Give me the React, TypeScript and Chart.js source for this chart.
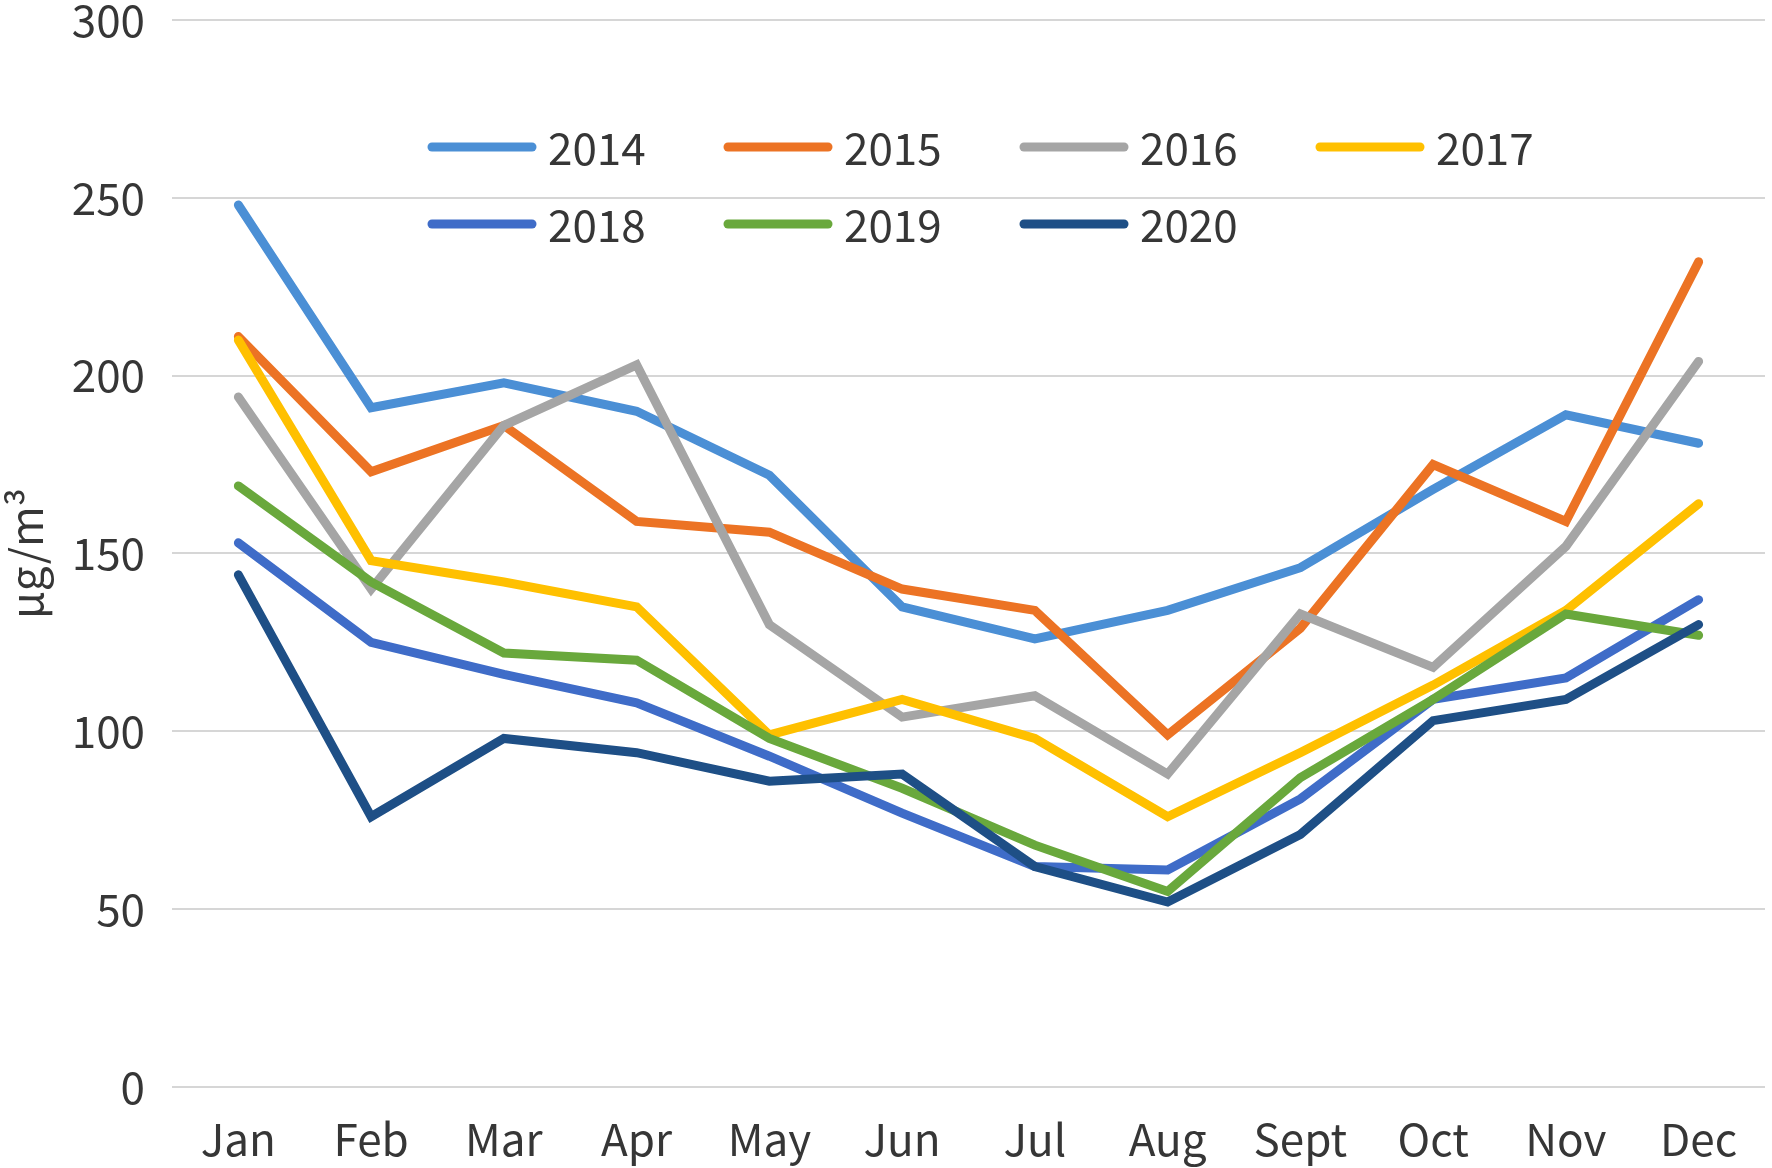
import React, { useEffect, useRef } from "react";
import { Chart, registerables } from "chart.js";

Chart.register(...registerables);

const months = ["Jan", "Feb", "Mar", "Apr", "May", "Jun", "Jul", "Aug", "Sept", "Oct", "Nov", "Dec"];
const years = ["2014", "2015", "2016", "2017", "2018", "2019", "2020"];

const v2014 = [248, 191, 198, 190, 172, 135, 126, 134, 146, 168, 189, 181];
const v2015 = [211, 173, 186, 159, 156, 140, 134, 99, 129, 175, 159, 232];
const v2016 = [194, 140, 186, 203, 130, 104, 110, 88, 133, 118, 152, 204];
const v2017 = [210, 148, 142, 135, 99, 109, 98, 76, 94, 113, 134, 164];
const v2018 = [153, 125, 116, 108, 93, 77, 62, 61, 81, 109, 115, 137];
const v2019 = [169, 142, 122, 120, 98, 84, 68, 55, 87, 109, 133, 127];
const v2020 = [144, 76, 98, 94, 86, 88, 62, 52, 71, 103, 109, 130];

const yTicks = [0, 50, 100, 150, 200, 250, 300];

const seriesValues = [v2014, v2015, v2016, v2017, v2018, v2019, v2020];
const colors = ["#4B8FD5", "#EC7324", "#A5A5A5", "#FFC000", "#3F6CC8", "#69A83C", "#1E4F86"];

const FONT = "'Noto Sans CJK SC', 'Liberation Sans', sans-serif";
const TEXT = "#363636";
const FS = 44;

const inlineLegend = {
  id: "inlineLegend",
  afterDraw(chart: any) {
    const ctx = chart.ctx;
    const area = chart.chartArea;
    const x0 = area.left + 255;
    const y0 = area.top + 127;
    const colW = 296;
    const rowH = 77;
    chart.data.datasets.forEach((ds: any, i: number) => {
      const col = i % 4;
      const row = Math.floor(i / 4);
      const x = x0 + col * colW;
      const y = y0 + row * rowH;
      ctx.save();
      ctx.strokeStyle = ds.borderColor;
      ctx.lineWidth = 9;
      ctx.lineCap = "round";
      ctx.beginPath();
      ctx.moveTo(x + 5, y);
      ctx.lineTo(x + 105, y);
      ctx.stroke();
      ctx.fillStyle = TEXT;
      ctx.font = `${FS}px ${FONT}`;
      ctx.textBaseline = "middle";
      ctx.textAlign = "left";
      ctx.fillText(ds.label, x + 121, y + 1);
      ctx.restore();
    });
  },
};

export default function App() {
  const ref = useRef<HTMLCanvasElement | null>(null);

  useEffect(() => {
    if (!ref.current) return;
    const chart = new Chart(ref.current, {
      type: "line",
      data: {
        labels: months,
        datasets: years.map((y, i) => ({
          label: y,
          data: seriesValues[i],
          borderColor: colors[i],
          backgroundColor: colors[i],
          borderWidth: 9,
          pointRadius: 0,
          tension: 0,
          borderCapStyle: "round" as const,
          borderJoinStyle: "miter" as const,
          order: years.length - i,
        })),
      },
      options: {
        animation: false,
        responsive: true,
        maintainAspectRatio: false,
        layout: { padding: { top: 0, right: 7, left: 0, bottom: 0 } },
        plugins: {
          legend: { display: false },
          tooltip: { enabled: false },
        },
        scales: {
          x: {
            offset: true,
            grid: { display: false },
            border: { display: false },
            ticks: {
              color: TEXT,
              font: { family: FONT, size: FS },
              padding: 18,
              maxRotation: 0,
              autoSkip: false,
            },
            afterFit: (s: any) => {
              s.height = 81;
            },
          },
          y: {
            min: 0,
            max: 300,
            afterBuildTicks: (s: any) => {
              s.ticks = yTicks.map((v) => ({ value: v }));
            },
            grid: {
              color: "#D6D6D6",
              lineWidth: 2,
              drawTicks: true,
              tickLength: 27,
              tickColor: "rgba(0,0,0,0)",
            },
            border: { display: false },
            ticks: {
              color: TEXT,
              font: { family: FONT, size: FS, lineHeight: 0.909 },
              padding: 0,
            },
            title: {
              display: true,
              text: "μg/m³",
              color: TEXT,
              font: { family: FONT, size: FS },
              padding: { top: 0, bottom: 0 },
            },
            afterFit: (s: any) => {
              s.width = 172;
            },
          },
        },
      },
      plugins: [inlineLegend],
    });
    return () => chart.destroy();
  }, []);

  return (
    <div style={{ position: "fixed", left: 0, top: 0, width: 1772, height: 1168, background: "#fff" }}>
      <canvas ref={ref} />
    </div>
  );
}
